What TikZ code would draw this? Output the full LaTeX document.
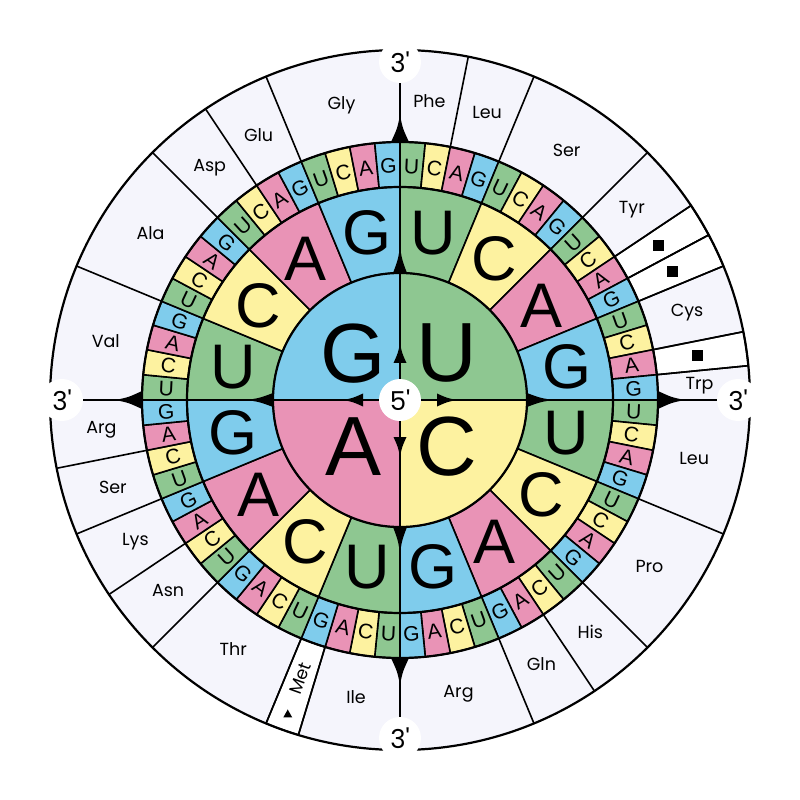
\documentclass[tikz,border=0pt]{standalone}
\usepackage{fontspec}
\setmainfont{Poppins}
\newfontfamily\basefont{Liberation Sans}
\usetikzlibrary{calc, arrows.meta}
\definecolor{b0}{RGB}{142,199,145}
\definecolor{b1}{RGB}{253,242,160}
\definecolor{b2}{RGB}{233,147,182}
\definecolor{b3}{RGB}{127,204,236}
\definecolor{ring}{RGB}{245,245,252}
\tikzstyle{sector}=[draw=black, line width=1.6pt]
\tikzstyle{rim}=[draw=black, line width=2.2pt]
\tikzstyle{axis}=[draw=black, line width=2pt]
\tikzstyle{acid}=[font=\fontsize{17.5pt}{17.5pt}\selectfont]
\tikzstyle{third}=[font=\basefont\fontsize{21pt}{21pt}\selectfont, inner sep=0pt]
\tikzstyle{second}=[font=\basefont\fontsize{63pt}{63pt}\selectfont, inner sep=0pt]
\tikzstyle{first}=[font=\basefont\fontsize{84pt}{84pt}\selectfont, inner sep=0pt]
\tikzstyle{prime}=[circle, fill=white, inner sep=0pt, minimum size=42pt, font=\fontsize{26pt}{26pt}\selectfont]
\tikzstyle{stopmark}=[fill=black, inner sep=0pt, minimum size=11pt]
\newcommand\basename[1]{\ifcase#1 U\or C\or A\or G\fi}
\newcommand\ringcell[5]{\filldraw[sector, fill=#1] ({90-#4}:#2) -- ({90-#4}:#3) arc[start angle={90-#4}, end angle={90-#5}, radius=#3] -- ({90-#5}:#2) arc[start angle={90-#5}, end angle={90-#4}, radius=#2] -- cycle;}
\newcommand\arrowhead[4]{\fill ($(#1:#2)+({#1+90}:#4)$) .. controls ($(#1:{#2+0.5*(#3-#2)})+({#1+90}:0.3*#4)$) .. (#1:#3) .. controls ($(#1:{#2+0.5*(#3-#2)})+({#1-90}:0.3*#4)$) .. ($(#1:#2)+({#1-90}:#4)$) -- cycle;}
\begin{document}
\begin{tikzpicture}
  \useasboundingbox (-400pt,-400pt) rectangle (400pt,400pt);
  \fill[white] (-400pt,-400pt) rectangle (400pt,400pt);
  \fill[ring] (0,0) circle (350pt);
  \foreach \k in {10,11,14,35} {\ringcell{white}{258pt}{350pt}{5.625*\k}{5.625*(\k+1)}}
  \foreach \b in {2,4,8,10,11,12,14,15,20,24,26,28,35,36,40,42,44,46,52,56,58,60}
    \draw[sector] ({90-5.625*\b}:258pt) -- ({90-5.625*\b}:350pt);
  \foreach \k in {0,...,63} {
    \pgfmathtruncatemacro\t{mod(\k,4)}
    \ringcell{b\t}{213pt}{258pt}{5.625*\k}{5.625*(\k+1)}
  }
  \foreach \k in {0,...,15} {
    \pgfmathtruncatemacro\t{mod(\k,4)}
    \ringcell{b\t}{127pt}{213pt}{22.5*\k}{22.5*(\k+1)}
  }
  \foreach \k in {0,...,3}
    \fill[b\k] (0,0) -- ({90-90*\k}:127pt) arc[start angle={90-90*\k}, end angle={-90*\k}, radius=127pt] -- cycle;
  \draw[rim] (0,0) circle (127pt) circle (213pt) circle (258pt) circle (350pt);

  \node[prime] (five) at (0,0) {5\textquotesingle};
  \node[prime] (top) at (90:338pt) {3\textquotesingle};
  \node[prime] (right) at (0:338pt) {3\textquotesingle};
  \node[prime] (bottom) at (-90:338pt) {3\textquotesingle};
  \node[prime] (left) at (180:338pt) {3\textquotesingle};
  \draw[axis] (five) -- (top);
  \draw[axis] (five) -- (right);
  \draw[axis] (five) -- (bottom);
  \draw[axis] (five) -- (left);
  \foreach \a in {90,0,-90,180} {
    \arrowhead{\a}{37pt}{57pt}{6.5pt}
    \arrowhead{\a}{127pt}{153pt}{7pt}
    \arrowhead{\a}{258pt}{285pt}{9pt}
  }

  \foreach \k in {0,...,3}
    \node[first] (f\k) at ({45-90*\k}:66pt) {\basename{\k}};
  \foreach \k in {0,...,15} {
    \pgfmathtruncatemacro\t{mod(\k,4)}
    \node[second] (m\k) at ({90-22.5*(\k+0.5)}:170pt) {\basename{\t}};
  }
  \foreach \k in {0,...,63} {
    \pgfmathtruncatemacro\t{mod(\k,4)}
    \pgfmathsetmacro\tm{5.625*(\k+0.5)}
    \pgfmathsetmacro\tilt{45-mod(\tm+45,90)}
    \node[third, rotate=\tilt] (s\k) at ({90-\tm}:234pt) {\basename{\t}};
  }

  \foreach \acid/\pos [count=\i] in {Phe/1, Leu/3, Ser/6, Tyr/9, Cys/13, Trp/15.5, Leu/18, Pro/22, His/25, Gln/27, Arg/30, Ile/33.5, Thr/38, Asn/41, Lys/43, Ser/45, Arg/47, Val/50, Ala/54, Asp/57, Glu/59, Gly/62}
    \node[acid] (aa\i) at ({90-5.625*\pos}:300pt) {\acid};
  \foreach \k in {10,11,14}
    \node[stopmark] (stop\k) at ({90-5.625*(\k+0.5)}:301pt) {};
  \node[acid, inner sep=1pt, rotate=70.3] (met) at ({90-199.7}:296pt) {Met};
  \coordinate (metmark) at ({90-199.7}:333pt);
  \fill ($(metmark)+(0,4pt)$) -- ++(-4.5pt,-8pt) -- ++(9pt,0) -- cycle;
\end{tikzpicture}
\end{document}
